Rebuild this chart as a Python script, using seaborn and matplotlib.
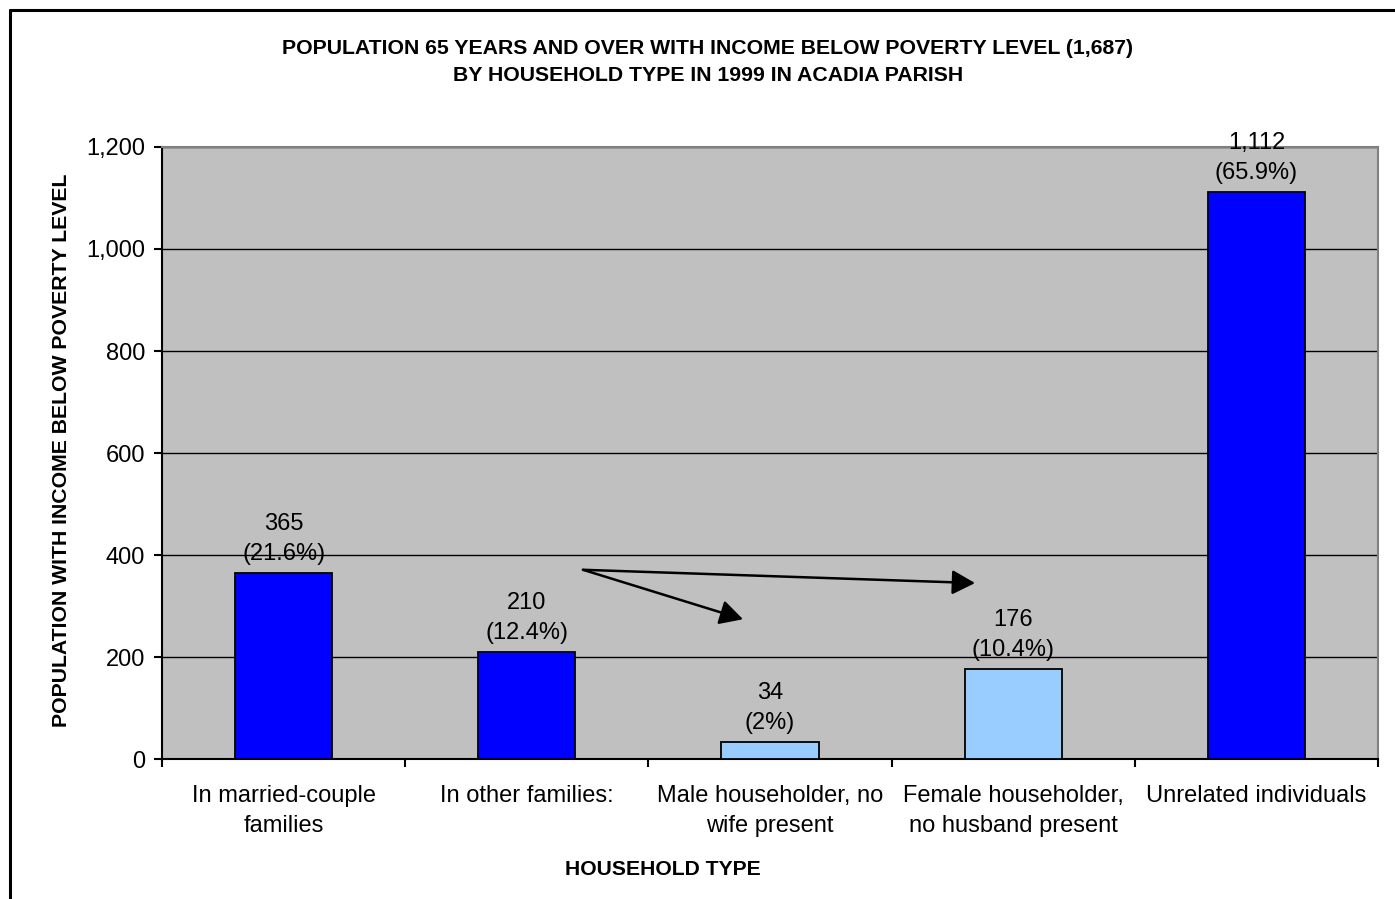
import numpy as np
import pandas as pd
import matplotlib
matplotlib.use("Agg")
import matplotlib.pyplot as plt
import seaborn as sns

categories = ["In married-couple\nfamilies", "In other families:", "Male householder, no\nwife present",
              "Female householder,\nno husband present", "Unrelated individuals"]
values = [365, 210, 34, 176, 1112]
pct_labels = ["21.6%", "12.4%", "2%", "10.4%", "65.9%"]
bar_colors = ["#0000FF", "#0000FF", "#99CCFF", "#99CCFF", "#0000FF"]
yticks = [0, 200, 400, 600, 800, 1000, 1200]

df = pd.DataFrame({"cat": categories, "val": values})

sns.set_style("white")
plt.rcParams["font.family"] = ["Liberation Sans", "DejaVu Sans"]
plt.rcParams["text.color"] = "black"
plt.rcParams["axes.labelcolor"] = "black"
plt.rcParams["xtick.color"] = "black"
plt.rcParams["ytick.color"] = "black"

fig = plt.figure(figsize=(13.95, 8.99), dpi=100)
ax = fig.add_axes([162/1395, 1 - 759/899, (1378-162)/1395, (759-147)/899])

sns.barplot(data=df, x="cat", y="val", hue="cat", palette=bar_colors, legend=False, saturation=1,
            width=0.4, edgecolor="black", linewidth=1.3, ax=ax, zorder=3)

ax.set_facecolor("#C0C0C0")
ax.set_ylim(0, 1200)
ax.set_xlim(-0.5, 4.5)
ax.set_yticks(yticks)
ax.set_yticklabels([f"{t:,}" for t in yticks], fontsize=17)
for t in yticks[1:]:
    ax.axhline(t, color="black", lw=1, zorder=1)

# category ticks sit at the boundaries
ax.set_xticks(np.arange(-0.5, 5, 1))
ax.set_xticklabels([])
ax.set_xticks(range(5), minor=True)
ax.set_xticklabels(categories, minor=True, fontsize=17, linespacing=1.45)
ax.tick_params(axis="x", which="minor", length=0, pad=19)
ax.tick_params(axis="x", which="major", length=6, width=1.5, direction="out")
ax.tick_params(axis="y", length=6, width=1.5, direction="out", pad=6)
ax.xaxis.set_ticks_position("bottom")
ax.yaxis.set_ticks_position("left")

for side in ["left", "bottom"]:
    ax.spines[side].set_color("black")
    ax.spines[side].set_linewidth(1.5)
for side in ["top", "right"]:
    ax.spines[side].set_color("#808080")
    ax.spines[side].set_linewidth(1.5)

for i, (v, p) in enumerate(zip(values, pct_labels)):
    ax.text(i, v + 16, f"{v:,}\n({p})", ha="center", va="bottom", fontsize=17, linespacing=1.45, zorder=4)

# arrows
arrow_kw = dict(arrowstyle="-|>,head_length=1.4,head_width=0.75", color="black", lw=1.8, shrinkA=0, shrinkB=0)
ax.annotate("", xy=(1.889, 274), xytext=(1.231, 371), arrowprops=arrow_kw, zorder=5)
ax.annotate("", xy=(2.843, 345), xytext=(1.231, 371), arrowprops=arrow_kw, zorder=5)

ax.set_xlabel("HOUSEHOLD TYPE", fontsize=15.2, fontweight="bold")
ax.xaxis.set_label_coords((663-162)/1216, (759-860)/612)
ax.set_ylabel("POPULATION WITH INCOME BELOW POVERTY LEVEL", fontsize=15.3, fontweight="bold")
ax.yaxis.set_label_coords(-(162-71)/1216, (759-450)/612)

fig.text(708/1395, 1 - 62/899, "POPULATION 65 YEARS AND OVER WITH INCOME BELOW POVERTY LEVEL (1,687)\nBY HOUSEHOLD TYPE IN 1999 IN ACADIA PARISH",
         ha="center", va="center", fontsize=15.3, fontweight="bold", linespacing=1.55)

# outer chart border (left and top visible)
fig.add_artist(plt.Line2D([10/1395, 10/1395], [0, 1 - 10/899], color="black", lw=2.2, transform=fig.transFigure))
fig.add_artist(plt.Line2D([10/1395, 1], [1 - 10/899, 1 - 10/899], color="black", lw=2.2, transform=fig.transFigure))

fig.savefig("out.png", dpi=100)
